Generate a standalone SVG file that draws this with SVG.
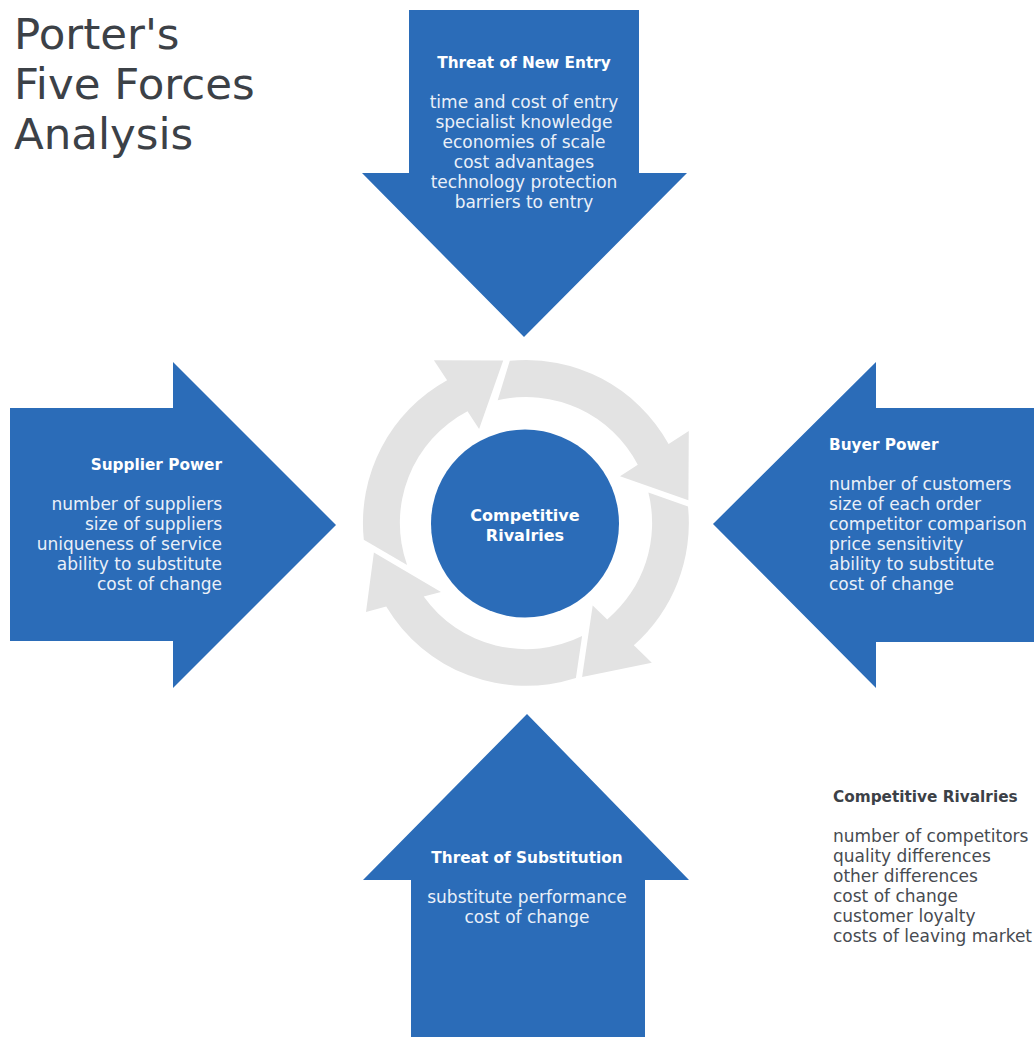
<svg xmlns="http://www.w3.org/2000/svg" width="1034" height="1037" viewBox="0 0 1034 1037">
<style>
.force{fill:#2b6cb8}
.cyc{fill:#e3e3e3}
.hd{font-family:"DejaVu Sans",sans-serif;font-weight:bold;font-size:15.3px;fill:#ffffff}
.bd{font-family:"DejaVu Sans",sans-serif;font-size:17px;fill:#eaf0f8}
.title{font-family:"DejaVu Sans",sans-serif;font-size:43.5px;fill:#3c4147}
.hdk{font-family:"DejaVu Sans",sans-serif;font-weight:bold;font-size:15.3px;fill:#3c4147}
.bdk{font-family:"DejaVu Sans",sans-serif;font-size:17px;fill:#474b51}
.c{text-anchor:middle}
.r{text-anchor:end}
</style>
<rect width="1034" height="1037" fill="#ffffff"/>
<g id="title">
<text class="title" x="14" y="49">Porter's</text>
<text class="title" x="14" y="99">Five Forces</text>
<text class="title" x="14" y="149">Analysis</text>
</g>
<g id="connectors">
<path class="cyc" d="M509.8,360.8 A163,163 0 0 1 668.6,444 L688.8,430.9 L688.4,500.2 L620,476.2 L637.8,464.8 A126,126 0 0 0 497.7,400.2 Z"/>
<path class="cyc" d="M688,506.5 A163,163 0 0 1 633.8,645.2 L651.8,662.7 L582.1,677.1 L592.7,605.4 L607.2,619.4 A126,126 0 0 0 648.4,492.6 Z"/>
<path class="cyc" d="M575.9,678 A163,163 0 0 1 386.2,606.6 L366,612 L373.9,552.6 L441,592 L423.7,596.6 A126,126 0 0 0 582.1,636 Z"/>
<path class="cyc" d="M363.8,539.7 A163,163 0 0 1 447.1,380.3 L433.9,360.2 L503.2,360.6 L479.1,429 L467.5,411.3 A126,126 0 0 0 407.1,565.1 Z"/>
</g>
<g id="new-entry">
<polygon class="force" points="409,10 639,10 639,173 687,173 524,337 362,173 409,173"/>
<text class="hd c" x="524" y="68">Threat of New Entry</text>
<text class="bd c" x="524" y="108">time and cost of entry</text>
<text class="bd c" x="524" y="128">specialist knowledge</text>
<text class="bd c" x="524" y="148">economies of scale</text>
<text class="bd c" x="524" y="168">cost advantages</text>
<text class="bd c" x="524" y="188">technology protection</text>
<text class="bd c" x="524" y="208">barriers to entry</text>
</g>
<g id="supplier-power">
<polygon class="force" points="10,408 173,408 173,362 336,525 173,688 173,641 10,641"/>
<text class="hd r" x="222" y="470">Supplier Power</text>
<text class="bd r" x="222" y="510">number of suppliers</text>
<text class="bd r" x="222" y="530">size of suppliers</text>
<text class="bd r" x="222" y="550">uniqueness of service</text>
<text class="bd r" x="222" y="570">ability to substitute</text>
<text class="bd r" x="222" y="590">cost of change</text>
</g>
<g id="buyer-power">
<polygon class="force" points="1034,408 876,408 876,362 713,524 876,688 876,642 1034,642"/>
<text class="hd" x="829" y="450">Buyer Power</text>
<text class="bd" x="829" y="490">number of customers</text>
<text class="bd" x="829" y="510">size of each order</text>
<text class="bd" x="829" y="530">competitor comparison</text>
<text class="bd" x="829" y="550">price sensitivity</text>
<text class="bd" x="829" y="570">ability to substitute</text>
<text class="bd" x="829" y="590">cost of change</text>
</g>
<g id="substitution">
<polygon class="force" points="411,1037 411,880 363,880 527,714 689,880 645,880 645,1037"/>
<text class="hd c" x="527" y="863">Threat of Substitution</text>
<text class="bd c" x="527" y="903">substitute performance</text>
<text class="bd c" x="527" y="923">cost of change</text>
</g>
<g id="rivalry-center">
<circle class="force" cx="525" cy="523.5" r="94"/>
<text class="hd c" x="525" y="521" style="font-size:16px">Competitive</text>
<text class="hd c" x="525" y="541" style="font-size:16px">Rivalries</text>
</g>
<g id="rivalry-notes">
<text class="hdk" x="833" y="802">Competitive Rivalries</text>
<text class="bdk" x="833" y="842">number of competitors</text>
<text class="bdk" x="833" y="862">quality differences</text>
<text class="bdk" x="833" y="882">other differences</text>
<text class="bdk" x="833" y="902">cost of change</text>
<text class="bdk" x="833" y="922">customer loyalty</text>
<text class="bdk" x="833" y="942">costs of leaving market</text>
</g>
</svg>
